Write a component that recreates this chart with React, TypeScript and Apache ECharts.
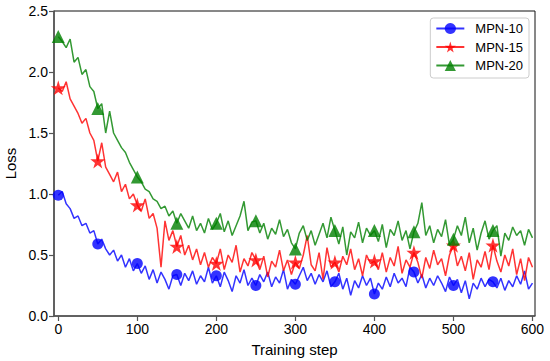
import React, { useEffect, useRef } from "react";
import * as echarts from "echarts";

const STEP_SIZE = 5;
const MARKER_EVERY = 10;
const LAST_MARKER_STEP = 550;
const X_TICKS = [0, 100, 200, 300, 400, 500, 600];
const Y_TICKS = [0, 0.5, 1.0, 1.5, 2.0, 2.5];
const SERIES_NAMES = ["MPN-10", "MPN-15", "MPN-20"];
const COLORS = ["#0000ff", "#ff0000", "#008000"];
const STAR = "path://M50,0 L61,35 L98,35 L68,57 L79,91 L50,70 L21,91 L32,57 L2,35 L39,35 Z";
const SYMBOLS = ["circle", STAR, "triangle"];
const SYMBOL_SIZES = [11, 15, 13];

const MPN10 = [
  0.99, 1.02, 0.92, 0.88, 0.8, 0.82, 0.74, 0.76, 0.68, 0.7,
  0.59, 0.63, 0.55, 0.5, 0.54, 0.45, 0.5, 0.4, 0.47, 0.37,
  0.43, 0.35, 0.41, 0.3, 0.38, 0.27, 0.36, 0.3, 0.22, 0.33,
  0.34, 0.25, 0.35, 0.29, 0.37, 0.26, 0.33, 0.28, 0.4, 0.27,
  0.33, 0.24, 0.36, 0.29, 0.2, 0.33, 0.27, 0.38, 0.25, 0.31,
  0.25, 0.34, 0.28, 0.36, 0.24, 0.32, 0.27, 0.38, 0.22, 0.3,
  0.26, 0.33, 0.4, 0.29, 0.35, 0.26, 0.34, 0.28, 0.37, 0.24,
  0.28, 0.35, 0.22, 0.31, 0.17, 0.29, 0.23, 0.33, 0.25, 0.31,
  0.18, 0.27, 0.22, 0.32, 0.24, 0.35, 0.27, 0.31, 0.24, 0.4,
  0.36, 0.27, 0.34, 0.23, 0.31, 0.25, 0.33, 0.27, 0.2, 0.32,
  0.25, 0.3, 0.19, 0.29, 0.14, 0.27, 0.22, 0.31, 0.24, 0.3,
  0.28, 0.23, 0.31, 0.21, 0.29, 0.24, 0.33, 0.26, 0.37, 0.22,
  0.27,
];

const MPN15 = [
  1.87, 1.84, 1.92, 1.78, 1.72, 1.66, 1.58, 1.62, 1.5, 1.44,
  1.27, 1.42, 1.22, 1.16, 1.1, 1.18, 1.02, 1.08, 0.96, 1.0,
  0.91, 0.86, 0.96, 0.8, 0.84, 0.72, 0.4, 0.78, 0.62, 0.7,
  0.57, 0.66, 0.5, 0.58, 0.46, 0.55, 0.42, 0.52, 0.4, 0.48,
  0.43, 0.55, 0.38, 0.5, 0.44, 0.58, 0.36, 0.47, 0.41, 0.52,
  0.46, 0.38, 0.49, 0.32, 0.45, 0.4, 0.54, 0.37, 0.46, 0.34,
  0.44, 0.39, 0.5, 0.66, 0.42, 0.37, 0.52, 0.3, 0.56, 0.4,
  0.44, 0.36, 0.49, 0.42, 0.55, 0.38, 0.47, 0.33, 0.5, 0.43,
  0.45, 0.38, 0.52, 0.36, 0.48, 0.41, 0.57, 0.35, 0.46, 0.4,
  0.52, 0.44, 0.31, 0.48, 0.39, 0.54, 0.42, 0.47, 0.33, 0.5,
  0.58, 0.41, 0.49, 0.37, 0.52, 0.3, 0.46, 0.4, 0.53, 0.38,
  0.58, 0.45, 0.36, 0.5, 0.41, 0.55, 0.34, 0.47, 0.29, 0.48,
  0.4,
];

const MPN20 = [
  2.29, 2.25, 2.2, 2.27, 2.08, 2.12, 1.98, 2.02, 1.88, 1.84,
  1.7, 1.74, 1.5, 1.68, 1.5, 1.44, 1.38, 1.34, 1.26, 1.2,
  1.14, 1.1, 1.04, 1.02, 0.96, 0.94, 0.88, 0.9, 0.82, 0.86,
  0.76, 0.84, 0.78, 0.72, 0.82, 0.7, 0.76, 0.68, 0.8, 0.71,
  0.76, 0.84, 0.69, 0.78, 0.66, 0.74, 0.82, 0.94, 0.7, 0.77,
  0.78, 0.68, 0.76, 0.63, 0.72, 0.67, 0.79, 0.65, 0.71, 0.6,
  0.55, 0.68, 0.74, 0.62, 0.7, 0.58, 0.67, 0.76, 0.64, 0.81,
  0.7, 0.59, 0.73, 0.5, 0.69, 0.64, 0.77, 0.6, 0.72, 0.66,
  0.7, 0.61, 0.75, 0.56, 0.71, 0.66, 0.78, 0.62, 0.7, 0.55,
  0.69, 0.76, 0.93, 0.66, 0.74, 0.6, 0.71, 0.65, 0.79, 0.58,
  0.63, 0.74, 0.66, 0.81, 0.6, 0.72, 0.54, 0.68, 0.78, 0.63,
  0.7, 0.74, 0.49, 0.68, 0.62, 0.73, 0.66, 0.7, 0.58, 0.71,
  0.64,
];

const SERIES_VALUES = [MPN10, MPN15, MPN20];

const FONT = "'Liberation Sans', Arial, sans-serif";

export default function App() {
  const ref = useRef<HTMLDivElement>(null);

  useEffect(() => {
    if (!ref.current) return;
    const chart = echarts.init(ref.current, null, { renderer: "svg" });
    const series = SERIES_VALUES.map((vals, s) => ({
      name: SERIES_NAMES[s],
      type: "line",
      data: vals.map((v, i) => [i * STEP_SIZE, v]),
      symbol: SYMBOLS[s],
      symbolSize: (_v: any, p: any) =>
        p.dataIndex % MARKER_EVERY === 0 && p.dataIndex * STEP_SIZE <= LAST_MARKER_STEP
          ? SYMBOL_SIZES[s]
          : 0,
      showSymbol: true,
      showAllSymbol: true,
      lineStyle: { color: COLORS[s], width: 1.5, opacity: 0.8 },
      itemStyle: { color: COLORS[s], opacity: 0.8 },
      emphasis: { disabled: true },
      z: 2 + s,
    }));

    chart.setOption({
      animation: false,
      backgroundColor: "#ffffff",
      textStyle: { fontFamily: FONT },
      grid: {
        left: 54,
        right: 15,
        top: 11,
        bottom: 45,
        containLabel: false,
        outerBoundsMode: "none",
        show: true,
        borderColor: "#111",
        borderWidth: 1,
        backgroundColor: "transparent",
      },
      legend: {
        orient: "vertical",
        right: 21,
        top: 18,
        padding: [4, 6, 6, 5],
        itemWidth: 28,
        itemHeight: 14,
        itemGap: 5.5,
        borderColor: "#cccccc",
        borderWidth: 1,
        borderRadius: 3,
        backgroundColor: "rgba(255,255,255,0.8)",
        textStyle: { fontFamily: FONT, fontSize: 13, color: "#000", padding: [0, 0, 0, 6] },
        data: SERIES_NAMES,
      },
      xAxis: {
        type: "value",
        min: -5.4,
        max: 603.2,
        name: "Training step",
        nameLocation: "middle",
        nameGap: 26,
        nameTextStyle: { fontFamily: FONT, fontSize: 15, color: "#000" },
        axisLine: { show: true, onZero: false, lineStyle: { color: "#555", width: 1.5 } },
        axisTick: { show: true, length: 5, customValues: X_TICKS, lineStyle: { color: "#555", width: 1.2 } },
        axisLabel: { customValues: X_TICKS, fontFamily: FONT, fontSize: 14, color: "#000", margin: 6 },
        splitLine: { show: false },
      },
      yAxis: {
        type: "value",
        min: 0,
        max: 2.5,
        interval: 0.5,
        name: "Loss",
        nameLocation: "middle",
        nameGap: 33,
        nameTextStyle: { fontFamily: FONT, fontSize: 15, color: "#000" },
        axisLine: { show: true, onZero: false, lineStyle: { color: "#555", width: 1.5 } },
        axisTick: { show: true, length: 5, customValues: Y_TICKS, lineStyle: { color: "#555", width: 1.2 } },
        axisLabel: {
          customValues: Y_TICKS,
          fontFamily: FONT,
          fontSize: 14,
          color: "#000",
          margin: 6,
          formatter: (v: number) => v.toFixed(1),
        },
        splitLine: { show: false },
      },
      series,
    });
    return () => chart.dispose();
  }, []);

  return (
    <div
      ref={ref}
      style={{ position: "fixed", left: 0, top: 0, width: 550, height: 361, background: "#fff" }}
    />
  );
}
